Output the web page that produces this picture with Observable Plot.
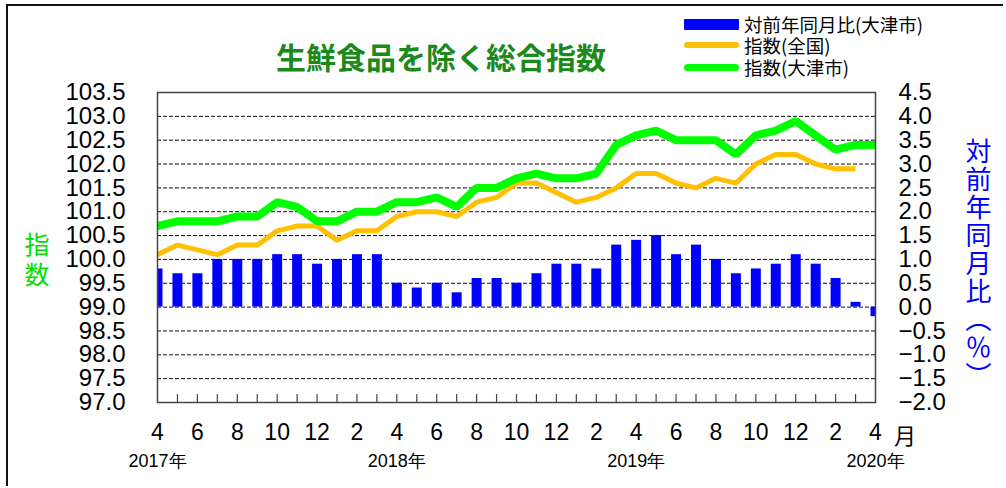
<!DOCTYPE html>
<html><head><meta charset="utf-8">
<script src="https://cdn.jsdelivr.net/npm/d3@7"></script>
<script src="https://cdn.jsdelivr.net/npm/@observablehq/plot@0.6"></script>
<style>
html,body{margin:0;background:#fff;overflow:hidden;width:1006px;height:488px;}
#wrap{position:relative;width:1006px;height:488px;overflow:hidden;background:#fff;}
#wrap svg{position:absolute;left:0;top:0;}
.cjk{font-family:"Noto Sans CJK JP","Noto Sans CJK SC",sans-serif;}
#border{position:absolute;left:6px;top:4px;width:995px;height:480px;border-left:2px solid #111;border-top:2px solid #111;}
#title{position:absolute;left:441px;top:56px;transform:translate(-50%,-50%);font-size:30px;font-weight:bold;color:#1b8a1b;white-space:nowrap;line-height:1;}
.leg{position:absolute;left:684px;width:55px;}
.legt{position:absolute;left:744px;font-size:18.5px;line-height:1;transform:translateY(-50%);white-space:nowrap;color:#000;}
.lch{position:absolute;left:37px;transform:translate(-50%,-50%);font-size:25px;line-height:1;color:#00e000;}
#rtitle{position:absolute;left:978px;top:264px;transform:translate(-50%,-50%);font-size:26px;line-height:1;color:#0000ff;writing-mode:vertical-rl;letter-spacing:2px;white-space:nowrap;}
#tsuki{position:absolute;left:905px;top:434px;transform:translate(-50%,-50%);font-size:22px;line-height:1;color:#000;}
</style></head>
<body><div id="wrap"></div>
<script>
// ---- data ----
const months = [
  "2017-04","2017-05","2017-06","2017-07","2017-08","2017-09","2017-10","2017-11","2017-12",
  "2018-01","2018-02","2018-03","2018-04","2018-05","2018-06","2018-07","2018-08","2018-09","2018-10","2018-11","2018-12",
  "2019-01","2019-02","2019-03","2019-04","2019-05","2019-06","2019-07","2019-08","2019-09","2019-10","2019-11","2019-12",
  "2020-01","2020-02","2020-03","2020-04"
];
// 対前年同月比(大津市) %
const yoyOtsu = [0.8,0.7,0.7,1.0,1.0,1.0,1.1,1.1,0.9,
  1.0,1.1,1.1,0.5,0.4,0.5,0.3,0.6,0.6,0.5,0.7,0.9,
  0.9,0.8,1.3,1.4,1.5,1.1,1.3,1.0,0.7,0.8,0.9,1.1,
  0.9,0.6,0.1,-0.2];
// 指数(全国)
const indexNational = [100.1,100.3,100.2,100.1,100.3,100.3,100.6,100.7,100.7,
  100.4,100.6,100.6,100.9,101.0,101.0,100.9,101.2,101.3,101.6,101.6,101.4,
  101.2,101.3,101.5,101.8,101.8,101.6,101.5,101.7,101.6,102.0,102.2,102.2,
  102.0,101.9,101.9,null];
// 指数(大津市)
const indexOtsu = [100.7,100.8,100.8,100.8,100.9,100.9,101.2,101.1,100.8,
  100.8,101.0,101.0,101.2,101.2,101.3,101.1,101.5,101.5,101.7,101.8,101.7,
  101.7,101.8,102.4,102.6,102.7,102.5,102.5,102.5,102.2,102.6,102.7,102.9,
  102.6,102.3,102.4,102.4];
const seriesNames = ["対前年同月比(大津市)","指数(全国)","指数(大津市)"];
const seriesColors = ["#0000ff","#ffc000","#00ff00"];
const leftTicks = [97.0,97.5,98.0,98.5,99.0,99.5,100.0,100.5,101.0,101.5,102.0,102.5,103.0,103.5];
const rightZero = 99.0; // left-axis value where the right axis reads 0.0
const yearLabels = ["2017年","2018年","2019年","2020年"];
const titleText = "生鮮食品を除く総合指数";
const leftTitle = ["指","数"];
const rightTitle = "対前年同月比（％）";
const monthUnit = "月";

// ---- table ----
const data = months.map((m, i) => ({
  i, month: +m.slice(5), year: +m.slice(0, 4),
  yoy: yoyOtsu[i], national: indexNational[i], otsu: indexOtsu[i]
}));
const labelIdx = data.filter((d, k) => k % 2 === 0).map(d => d.i);
const innerIdx = data.slice(1, -1).map(d => d.i);
const yearIdx = data.filter(d => d.month === 4).map(d => d.i);
const yMin = leftTicks[0], yMax = leftTicks[leftTicks.length - 1];
const fmtR = v => { const s = (v - rightZero).toFixed(1); return s.startsWith("-") ? "\u2212" + s.slice(1) : s; };

const chart = Plot.plot({
  width: 1006, height: 488,
  marginLeft: 157, marginRight: 131, marginTop: 92, marginBottom: 86,
  style: {fontFamily: '"Liberation Sans", Arial, sans-serif', color: "#000", background: "transparent"},
  x: {type: "linear", domain: [0, months.length - 1]},
  y: {domain: [yMin, yMax]},
  marks: [
    Plot.ruleY(leftTicks.slice(1, -1), {stroke: "#111", strokeWidth: 1, strokeDasharray: "4,2"}),
    Plot.ruleX(data, {x: "i", y1: () => rightZero, y2: d => d.yoy + rightZero, stroke: seriesColors[0], strokeWidth: 10, clip: "frame"}),
    Plot.line(data, {x: "i", y: "national", stroke: seriesColors[1], strokeWidth: 5, strokeLinecap: "butt", strokeLinejoin: "miter", clip: "frame"}),
    Plot.line(data, {x: "i", y: "otsu", stroke: seriesColors[2], strokeWidth: 8, strokeLinecap: "butt", strokeLinejoin: "miter", clip: "frame"}),
    Plot.frame({stroke: "#444", strokeWidth: 1.5}),
    // inward month tick marks on the bottom edge
    Plot.ruleX(innerIdx, {x: d => d, y1: () => yMin, y2: () => yMin, insetTop: -8, stroke: "#444", strokeWidth: 1.2}),
    Plot.axisX({ticks: labelIdx, tickSize: 0, tickPadding: 21, fontSize: 23, tickFormat: i => String(data[i].month), label: null}),
    Plot.axisX({ticks: yearIdx, tickSize: 0, tickPadding: 52, fontSize: 18, tickFormat: i => yearLabels[yearIdx.indexOf(i)], label: null}),
    Plot.axisY({anchor: "left", ticks: leftTicks, tickSize: 0, tickPadding: 32, fontSize: 24, tickFormat: d => d.toFixed(1), label: null}),
    Plot.axisY({anchor: "right", ticks: leftTicks, tickSize: 0, tickPadding: 23, fontSize: 24, textAnchor: "start", tickFormat: fmtR, label: null})
  ]
});

const wrap = document.getElementById("wrap");
wrap.appendChild(chart);

function addDiv(id, cls, text, style) {
  const el = document.createElement("div");
  if (id) el.id = id;
  if (cls) el.className = cls;
  if (text != null) el.textContent = text;
  if (style) Object.assign(el.style, style);
  wrap.appendChild(el);
  return el;
}
addDiv("border");
addDiv("title", "cjk", titleText);
const legY = [24, 45, 67], legH = [11, 6, 7], legR = [1, 3, 4];
seriesNames.forEach((n, k) => {
  addDiv(null, "leg", null, {top: (legY[k] - legH[k] / 2) + "px", height: legH[k] + "px", background: seriesColors[k], borderRadius: legR[k] + "px"});
  addDiv(null, "legt cjk", n, {top: legY[k] + "px"});
});
leftTitle.forEach((c, k) => addDiv(null, "lch cjk", c, {top: (243 + k * 30) + "px"}));
addDiv("rtitle", "cjk", rightTitle);
addDiv("tsuki", "cjk", monthUnit);
</script>
</body></html>
